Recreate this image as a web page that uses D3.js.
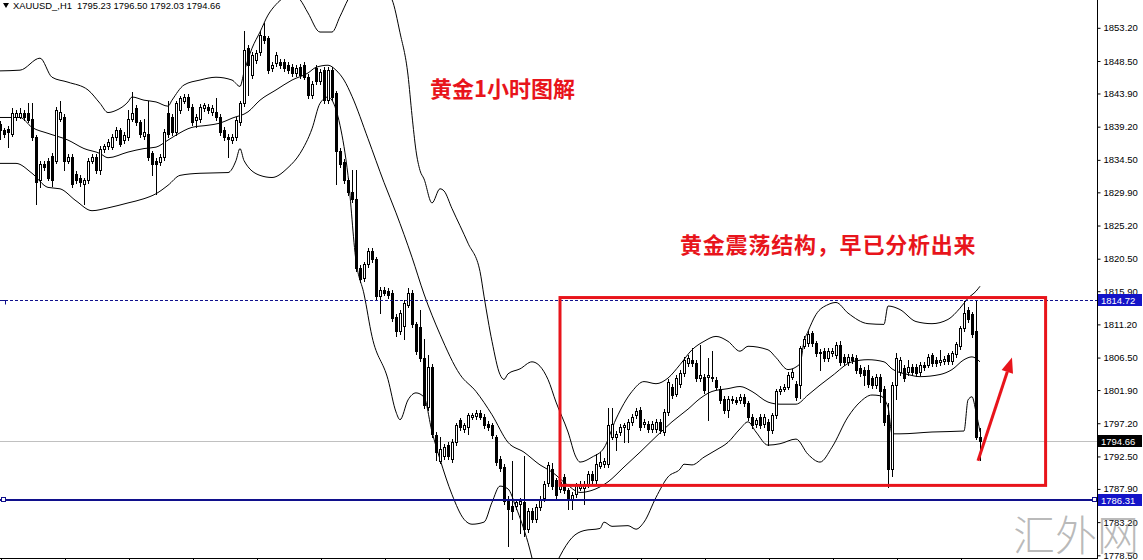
<!DOCTYPE html>
<html>
<head>
<meta charset="utf-8">
<script src="https://cdn.jsdelivr.net/npm/d3@7/dist/d3.min.js"></script>
<style>
  html, body { margin: 0; padding: 0; background: #fff; }
  svg { display: block; }
</style>
</head>
<body>
<svg id="chart" width="1143" height="560"></svg>
<script>
// XAUUSD H1 bars, oldest first (one row = 10 bars).
const opens = [
  1839.6, 1838.7, 1838.9, 1838.2, 1840.6, 1840.6, 1841.1, 1841.1, 1840.3, 1837.7,
  1831.6, 1833.9, 1834.4, 1835.1, 1834.4, 1840.3, 1840.6, 1834.4, 1834.9, 1832.5,
  1832.0, 1831.1, 1831.6, 1834.4, 1834.9, 1833.0, 1836.0, 1836.5, 1836.3, 1837.7,
  1838.7, 1837.3, 1837.7, 1840.3, 1841.8, 1839.9, 1837.9, 1838.2, 1835.4, 1834.4,
  1834.2, 1834.9, 1841.1, 1840.6, 1838.4, 1841.5, 1842.9, 1843.4, 1842.0, 1840.1,
  1840.3, 1841.8, 1842.0, 1841.3, 1841.3, 1840.6, 1838.7, 1837.7, 1837.3, 1837.7,
  1839.9, 1842.5, 1850.3, 1846.5, 1848.6, 1849.8, 1852.0, 1851.7, 1847.5, 1848.2,
  1848.4, 1848.4, 1847.9, 1847.7, 1846.75, 1847.7, 1847.9, 1846.3, 1843.7, 1847.5,
  1845.6, 1847.2, 1843.0, 1847.2, 1843.9, 1835.8, 1834.2, 1831.6, 1829.9, 1828.95,
  1819.2, 1817.8, 1819.7, 1821.6, 1820.4, 1815.2, 1816.1, 1815.9, 1815.7, 1812.3,
  1810.2, 1811.0, 1814.0, 1815.7, 1811.2, 1810.9, 1806.4, 1799.5, 1805.2, 1795.5,
  1791.9, 1792.6, 1794.1, 1792.2, 1794.5, 1797.6, 1796.4, 1796.7, 1798.1, 1798.2,
  1798.7, 1798.1, 1797.1, 1796.9, 1795.25, 1792.2, 1791.0, 1786.5, 1785.5, 1785.5,
  1785.8, 1786.0, 1782.2, 1784.8, 1783.6, 1785.3, 1786.6, 1788.7, 1790.7, 1789.1,
  1787.9, 1789.6, 1787.7, 1786.4, 1787.2, 1788.1, 1788.1, 1788.6, 1790.0, 1789.1,
  1791.2, 1791.4, 1791.4, 1795.25, 1795.25, 1795.96, 1796.7, 1796.4, 1797.4, 1798.3,
  1799.05, 1797.1, 1797.1, 1796.4, 1796.4, 1797.4, 1795.96, 1798.8, 1802.4, 1801.4,
  1802.8, 1804.3, 1805.7, 1806.2, 1805.7, 1803.6, 1803.8, 1803.8, 1803.8, 1803.3,
  1802.1, 1800.7, 1799.05, 1800.5, 1800.5, 1800.5, 1800.95, 1800.0, 1798.1, 1797.1,
  1798.1, 1797.1, 1797.4, 1796.2, 1798.3, 1801.7, 1802.1, 1802.4, 1803.8, 1802.8,
  1802.6, 1808.2, 1808.5, 1809.96, 1808.5, 1807.3, 1807.4, 1806.4, 1807.1, 1806.9,
  1808.3, 1806.6, 1805.9, 1806.6, 1806.4, 1805.0, 1804.75, 1804.75, 1803.55, 1802.6,
  1803.8, 1802.1, 1798.3, 1790.75, 1802.6, 1804.5, 1805.0, 1804.5, 1805.2, 1805.2,
  1804.5, 1805.5, 1805.5, 1806.9, 1806.2, 1805.9, 1806.0, 1806.9, 1805.95, 1806.94,
  1808.08, 1810.64, 1813.2, 1812.63, 1810.2, 1795.23
];
const highs = [
  1840.0, 1839.0, 1839.3, 1841.8, 1841.5, 1841.8, 1841.5, 1842.5, 1842.5, 1838.0,
  1834.3, 1834.3, 1834.8, 1835.5, 1842.0, 1842.9, 1841.0, 1835.3, 1835.3, 1832.9,
  1832.4, 1832.0, 1834.8, 1835.3, 1835.3, 1836.5, 1836.8, 1837.4, 1838.1, 1839.1,
  1839.0, 1838.4, 1841.5, 1844.1, 1842.2, 1840.2, 1840.3, 1842.9, 1835.8, 1834.8,
  1835.3, 1838.8, 1842.9, 1841.0, 1842.9, 1843.6, 1843.8, 1843.8, 1842.4, 1841.0,
  1842.4, 1842.6, 1842.4, 1842.2, 1843.2, 1841.0, 1839.1, 1838.1, 1838.1, 1840.5,
  1842.9, 1852.7, 1850.7, 1849.8, 1850.0, 1852.8, 1853.9, 1852.1, 1848.3, 1849.8,
  1848.8, 1848.8, 1848.3, 1848.1, 1847.9, 1848.1, 1848.4, 1846.7, 1845.7, 1847.9,
  1847.4, 1847.6, 1847.6, 1847.6, 1844.3, 1836.2, 1834.6, 1832.0, 1833.0, 1833.0,
  1819.6, 1820.1, 1822.0, 1822.0, 1820.8, 1816.5, 1816.5, 1816.3, 1816.1, 1812.7,
  1813.2, 1814.6, 1816.4, 1816.1, 1811.6, 1813.3, 1809.1, 1806.9, 1805.6, 1795.9,
  1795.25, 1794.2, 1794.5, 1794.9, 1797.3, 1798.0, 1797.3, 1798.7, 1798.7, 1799.1,
  1799.1, 1798.5, 1797.5, 1797.3, 1795.6, 1792.6, 1791.4, 1786.9, 1791.9, 1786.4,
  1786.6, 1792.6, 1785.2, 1785.2, 1785.7, 1786.9, 1789.0, 1791.7, 1791.6, 1789.5,
  1789.3, 1790.0, 1788.1, 1787.4, 1788.8, 1789.0, 1789.0, 1790.4, 1790.4, 1792.9,
  1793.1, 1792.3, 1799.3, 1799.3, 1796.1, 1797.1, 1797.3, 1797.8, 1798.5, 1799.4,
  1799.5, 1797.8, 1797.5, 1797.5, 1797.8, 1797.8, 1799.2, 1803.5, 1802.8, 1804.0,
  1804.7, 1806.6, 1806.8, 1807.8, 1806.1, 1808.3, 1804.2, 1806.4, 1807.4, 1803.7,
  1802.5, 1801.1, 1801.1, 1801.1, 1800.9, 1801.4, 1801.4, 1800.4, 1798.5, 1798.0,
  1798.5, 1798.5, 1797.8, 1798.7, 1802.1, 1802.5, 1802.8, 1804.4, 1804.9, 1803.2,
  1808.2, 1809.6, 1810.2, 1810.3, 1808.9, 1807.7, 1807.8, 1807.8, 1807.8, 1808.7,
  1808.8, 1807.0, 1807.0, 1807.0, 1806.8, 1805.4, 1805.1, 1805.5, 1803.9, 1804.2,
  1804.2, 1802.5, 1800.0, 1803.0, 1807.1, 1806.6, 1805.4, 1806.2, 1805.6, 1805.6,
  1805.9, 1805.9, 1807.0, 1807.1, 1806.6, 1807.6, 1806.7, 1807.2, 1807.4, 1808.7,
  1811.0, 1814.49, 1813.6, 1813.0, 1814.72, 1796.50
];
const lows = [
  1837.5, 1837.8, 1836.3, 1837.9, 1840.2, 1840.4, 1840.2, 1839.8, 1837.3, 1828.2,
  1830.6, 1833.0, 1831.6, 1830.8, 1834.0, 1840.0, 1833.0, 1834.0, 1830.7, 1831.2,
  1830.8, 1828.2, 1831.2, 1834.0, 1832.6, 1832.5, 1835.6, 1836.1, 1836.0, 1837.3,
  1836.4, 1836.9, 1837.3, 1840.0, 1839.5, 1837.8, 1837.5, 1834.5, 1832.3, 1829.7,
  1833.8, 1834.5, 1837.8, 1838.0, 1838.0, 1841.1, 1842.5, 1841.6, 1839.5, 1839.1,
  1839.9, 1841.4, 1841.1, 1840.9, 1840.2, 1838.0, 1837.3, 1834.9, 1836.9, 1837.3,
  1839.5, 1842.1, 1843.7, 1846.1, 1848.2, 1849.4, 1851.1, 1846.8, 1847.1, 1847.8,
  1847.5, 1847.1, 1846.8, 1846.4, 1846.4, 1846.1, 1845.9, 1843.3, 1843.3, 1845.2,
  1845.2, 1842.5, 1842.5, 1843.0, 1831.1, 1833.5, 1831.2, 1829.5, 1828.5, 1818.8,
  1817.2, 1817.4, 1819.3, 1820.0, 1814.8, 1812.8, 1815.3, 1815.0, 1811.7, 1809.5,
  1809.8, 1809.2, 1813.6, 1810.8, 1807.0, 1806.0, 1799.4, 1799.1, 1795.3, 1792.0,
  1791.5, 1792.2, 1792.2, 1791.7, 1794.1, 1796.3, 1796.0, 1795.7, 1797.8, 1797.8,
  1797.8, 1796.5, 1796.3, 1795.1, 1791.3, 1790.4, 1785.8, 1779.8, 1783.6, 1785.1,
  1781.7, 1781.3, 1781.8, 1783.2, 1783.2, 1784.9, 1786.2, 1788.3, 1787.9, 1786.6,
  1787.5, 1787.3, 1785.1, 1785.0, 1786.8, 1787.7, 1785.8, 1788.2, 1788.7, 1788.7,
  1790.8, 1791.0, 1791.0, 1794.9, 1793.4, 1795.6, 1794.5, 1794.5, 1797.0, 1797.9,
  1796.3, 1796.7, 1796.0, 1796.0, 1796.0, 1795.8, 1795.5, 1798.4, 1800.8, 1801.0,
  1802.4, 1803.9, 1805.3, 1805.3, 1803.2, 1803.2, 1801.5, 1797.6, 1803.2, 1802.0,
  1800.1, 1798.6, 1798.1, 1800.1, 1799.9, 1800.1, 1799.6, 1797.7, 1796.5, 1796.7,
  1796.5, 1796.7, 1794.1, 1795.8, 1797.9, 1801.3, 1801.7, 1802.0, 1803.4, 1800.5,
  1800.8, 1807.8, 1808.1, 1808.1, 1806.7, 1804.75, 1806.0, 1806.0, 1806.7, 1806.5,
  1805.5, 1805.5, 1805.5, 1805.8, 1804.3, 1803.9, 1802.6, 1802.4, 1802.2, 1802.2,
  1800.25, 1797.0, 1788.2, 1789.8, 1800.7, 1804.1, 1803.2, 1804.1, 1804.1, 1803.9,
  1804.1, 1804.8, 1805.1, 1805.3, 1805.3, 1805.5, 1805.6, 1805.6, 1805.6, 1806.6,
  1807.7, 1810.2, 1811.5, 1809.4, 1794.9, 1792.03
];
const closes = [
  1838.7, 1838.2, 1838.4, 1841.1, 1841.1, 1841.1, 1840.6, 1840.1, 1837.7, 1831.3,
  1833.9, 1833.5, 1832.0, 1831.6, 1841.5, 1841.3, 1834.4, 1834.9, 1831.1, 1831.6,
  1831.3, 1831.6, 1834.4, 1834.9, 1833.0, 1836.1, 1836.4, 1837.0, 1837.7, 1838.7,
  1836.8, 1838.0, 1840.3, 1841.1, 1839.9, 1838.2, 1838.4, 1834.9, 1833.9, 1833.9,
  1834.9, 1838.4, 1838.2, 1838.4, 1842.5, 1843.2, 1843.4, 1842.0, 1839.9, 1840.6,
  1842.0, 1842.2, 1841.5, 1841.8, 1840.6, 1838.4, 1837.7, 1837.5, 1837.7, 1840.1,
  1842.5, 1850.1, 1847.9, 1849.4, 1849.6, 1852.2, 1851.5, 1847.2, 1847.9, 1849.4,
  1847.9, 1847.5, 1847.2, 1846.75, 1847.5, 1846.5, 1846.3, 1843.7, 1845.3, 1845.6,
  1847.0, 1842.95, 1847.2, 1843.4, 1835.8, 1833.9, 1831.6, 1829.9, 1828.95, 1819.2,
  1817.6, 1819.7, 1821.6, 1820.4, 1815.2, 1816.1, 1815.7, 1815.4, 1812.1, 1810.2,
  1812.8, 1814.2, 1815.7, 1811.2, 1807.4, 1806.4, 1799.8, 1805.2, 1795.7, 1793.1,
  1793.6, 1793.8, 1792.6, 1794.5, 1796.9, 1796.7, 1796.9, 1798.3, 1798.3, 1798.7,
  1798.1, 1796.9, 1796.7, 1795.5, 1791.7, 1790.8, 1786.2, 1785.0, 1784.8, 1786.0,
  1786.2, 1782.2, 1784.8, 1783.6, 1785.3, 1786.5, 1788.6, 1791.3, 1788.3, 1787.0,
  1788.9, 1787.7, 1786.4, 1787.0, 1788.4, 1788.6, 1788.6, 1790.0, 1789.1, 1791.4,
  1791.7, 1791.9, 1796.9, 1797.1, 1795.7, 1796.7, 1796.9, 1797.4, 1798.1, 1799.0,
  1796.7, 1797.4, 1796.4, 1797.1, 1797.4, 1796.2, 1798.8, 1803.1, 1801.2, 1803.6,
  1804.3, 1806.2, 1806.4, 1805.7, 1803.55, 1804.0, 1801.9, 1804.0, 1803.55, 1802.4,
  1800.5, 1799.05, 1800.7, 1800.7, 1800.25, 1800.95, 1800.0, 1798.1, 1796.9, 1797.6,
  1796.9, 1798.1, 1796.2, 1798.3, 1801.7, 1802.1, 1802.4, 1804.0, 1804.5, 1800.95,
  1807.8, 1809.2, 1809.9, 1808.5, 1807.1, 1807.1, 1806.4, 1807.4, 1807.4, 1808.3,
  1805.9, 1805.9, 1806.6, 1806.2, 1804.75, 1804.3, 1804.0, 1802.8, 1802.6, 1803.8,
  1801.7, 1797.4, 1790.75, 1802.6, 1806.4, 1806.2, 1803.55, 1805.2, 1804.5, 1804.3,
  1805.5, 1805.2, 1806.6, 1805.7, 1805.7, 1806.2, 1806.3, 1805.95, 1807.08, 1808.36,
  1810.64, 1812.78, 1811.9, 1809.79, 1795.23, 1794.66
];

// Bollinger bands, read at selected bars.
const upperBars = [0, 5, 10, 13, 17, 22, 25, 27, 29, 32, 33, 36, 39, 42, 43, 46, 50, 54, 58, 60,
  61, 63, 65, 67, 69, 71, 73, 75, 77, 80, 83, 85, 87, 90, 94, 98, 100, 102, 103, 104,
  105, 106, 108, 110, 111, 113, 117, 120, 121, 123, 125, 126, 127, 130, 133, 137, 139, 142, 144, 145,
  148, 151, 154, 158, 161, 164, 167, 170, 173, 176, 179, 182, 185, 187, 192, 194, 197, 200, 201, 202,
  204, 207, 209, 212, 217, 221, 222, 225, 229, 233, 237, 240, 242, 244, 245];
const upperBand = [1847.1, 1847.2, 1848.9, 1846.2, 1845.5, 1844.4, 1842.5, 1841.2, 1841.5, 1842.7, 1843.4, 1842.95, 1842.7, 1842.1, 1842.95, 1845.1, 1845.8, 1846.2, 1845.8, 1844.9,
  1846.9, 1850.3, 1852.6, 1855.0, 1856.5, 1857.5, 1858.0, 1857.2, 1855.3, 1852.6, 1852.6, 1854.8, 1857.2, 1860.0, 1860.0, 1857.2, 1852.5, 1846.5, 1840.8, 1835.8,
  1833.0, 1831.8, 1828.4, 1830.4, 1830.1, 1827.6, 1822.7, 1818.7, 1815.2, 1808.8, 1804.1, 1803.4, 1804.2, 1804.9, 1805.9, 1803.4, 1800.2, 1795.96, 1792.4, 1791.7,
  1792.4, 1793.7, 1797.8, 1801.7, 1803.1, 1802.8, 1803.6, 1805.5, 1807.6, 1808.8, 1809.5, 1808.8, 1807.4, 1808.1, 1807.6, 1806.5, 1804.8, 1805.6, 1808.8, 1810.2,
  1812.6, 1814.0, 1814.3, 1812.8, 1811.3, 1811.2, 1813.8, 1813.3, 1811.6, 1811.3, 1811.9, 1813.5, 1814.9, 1815.9, 1816.6];

const middleBars = [0, 5, 8, 12, 17, 21, 25, 27, 32, 36, 39, 42, 44, 48, 52, 55, 58, 62, 65, 69,
  73, 77, 79, 82, 84, 86, 88, 92, 96, 99, 103, 106, 110, 115, 119, 123, 127, 131, 135, 138,
  142, 145, 148, 152, 156, 160, 164, 168, 172, 175, 178, 182, 185, 188, 192, 195, 199, 202, 205, 208,
  213, 217, 221, 223, 227, 230, 235, 238, 241, 243, 245];
const middleBand = [1840.5, 1840.5, 1839.1, 1838.25, 1837.3, 1836.1, 1835.4, 1834.8, 1835.6, 1836.1, 1836.3, 1837.3, 1838.0, 1839.1, 1839.4, 1839.7, 1840.4, 1841.3, 1842.95, 1844.4,
  1845.8, 1846.8, 1847.6, 1847.9, 1847.2, 1845.8, 1843.5, 1837.5, 1831.3, 1827.0, 1820.7, 1815.5, 1809.8, 1804.1, 1801.7, 1798.4, 1794.5, 1793.1, 1791.3, 1790.3,
  1788.4, 1787.4, 1787.7, 1788.9, 1791.0, 1793.1, 1795.3, 1797.4, 1799.2, 1800.7, 1801.7, 1802.1, 1802.4, 1801.7, 1800.2, 1799.9, 1799.9, 1801.2, 1802.6, 1803.9,
  1805.9, 1806.2, 1805.9, 1804.9, 1804.1, 1803.8, 1804.1, 1804.8, 1806.2, 1806.6, 1805.9];

const lowerBars = [0, 4, 8, 12, 15, 19, 23, 27, 32, 36, 39, 42, 45, 50, 57, 59, 60, 61, 65, 68,
  72, 75, 78, 80, 82, 83, 85, 87, 89, 91, 93, 97, 99, 100, 102, 104, 106, 108, 110, 113,
  116, 118, 121, 123, 125, 127, 129, 132, 134, 136, 138, 140, 143, 146, 150, 151, 153, 157, 159, 161,
  164, 167, 170, 171, 173, 176, 179, 182, 185, 187, 189, 192, 195, 199, 202, 205, 208, 212, 215, 218,
  220, 222, 223, 225, 233, 241, 242, 243, 244, 245];
const lowerBand = [1834.0, 1834.0, 1832.6, 1830.6, 1830.4, 1828.7, 1827.3, 1827.7, 1828.4, 1829.0, 1829.7, 1830.9, 1832.3, 1832.6, 1832.7, 1834.4, 1836.1, 1834.4, 1832.3, 1832.0,
  1833.4, 1835.4, 1838.9, 1842.5, 1843.4, 1842.95, 1839.4, 1832.3, 1820.2, 1815.5, 1809.5, 1803.4, 1798.8, 1797.7, 1800.5, 1801.5, 1800.9, 1796.0, 1792.1, 1787.1,
  1783.6, 1782.9, 1783.2, 1786.0, 1788.3, 1787.9, 1785.3, 1780.3, 1776.0, 1773.2, 1776.0, 1778.4, 1781.0, 1782.0, 1782.3, 1783.2, 1782.6, 1782.7, 1782.2, 1783.2,
  1786.7, 1789.6, 1790.7, 1791.4, 1791.3, 1792.4, 1793.4, 1794.5, 1796.4, 1797.4, 1795.96, 1794.1, 1794.3, 1794.96, 1792.8, 1791.7, 1793.8, 1798.1, 1800.2, 1801.2,
  1801.1, 1799.5, 1795.7, 1795.7, 1795.96, 1796.1, 1800.5, 1800.95, 1798.8, 1795.96];

// Price scale labels and time scale tick bars.
const priceTicks = [1853.20, 1848.50, 1843.90, 1839.20, 1834.50, 1829.90, 1825.20, 1820.50, 1815.90,
  1811.20, 1806.50, 1801.90, 1797.20, 1792.50, 1787.90, 1783.20, 1778.50];
const timeTicks = [0, 16, 32, 48, 64, 80, 96, 112, 128, 144, 160, 176, 192, 208, 224, 240];

// Header, horizontal levels and annotations.
const symbolName = 'XAUUSD_,H1';
const lastBar = [1795.23, 1796.50, 1792.03, 1794.66];
const resistance = 1814.72;
const support = 1786.31;
const boxBars = [140, 261.4];
const boxPrices = [1815.0, 1788.4];
const arrowBars = [244.5, 253];
const arrowPrices = [1791.9, 1806.5];
const titleText = '黄金1小时图解';
const noteText = '黄金震荡结构，早已分析出来';
const watermarkText = '汇外网';

const plotRight = 1097, plotBottom = 558;
const red = '#e8141b';
const labelFont = '"Liberation Sans Narrow", "Arial Narrow", "Liberation Sans", sans-serif';
const cjkFont = '"Noto Sans CJK SC", "Noto Sans", sans-serif';

const svg = d3.select('#chart');

// Scales.
const x = d3.scaleLinear().domain([0, 245]).range([0, 980]);
const y = d3.scaleLinear().domain([1853.2, 1778.5]).range([27.8, 555.3]);
const px = i => Math.round(x(i));
const py = v => Math.round(y(v));

svg.append('rect').attr('width', 1143).attr('height', 560).attr('fill', '#fff');

svg.append('defs').append('clipPath').attr('id', 'plot-clip')
  .append('rect').attr('width', plotRight).attr('height', plotBottom);

const plot = svg.append('g').attr('clip-path', 'url(#plot-clip)');

// Bid line.
plot.append('line')
  .attr('x1', 0).attr('x2', plotRight)
  .attr('y1', py(lastBar[3]) + 0.5).attr('y2', py(lastBar[3]) + 0.5)
  .attr('stroke', '#c0c0c0');

// Bollinger bands.
const bandLine = d3.line().x(d => x(d[0])).y(d => y(d[1])).curve(d3.curveMonotoneX);
[[upperBars, upperBand], [middleBars, middleBand], [lowerBars, lowerBand]].forEach(([bars, vals]) => {
  plot.append('path')
    .datum(bars.map((b, k) => [b, vals[k]]))
    .attr('fill', 'none')
    .attr('stroke', '#000')
    .attr('stroke-width', 1)
    .attr('d', bandLine);
});

// Candles.
const bars = opens.map((o, i) => ({ i, o, h: highs[i], l: lows[i], c: closes[i] }));

plot.append('g')
  .selectAll('line')
  .data(bars)
  .join('line')
  .attr('x1', d => px(d.i) + 0.5)
  .attr('x2', d => px(d.i) + 0.5)
  .attr('y1', d => py(d.h))
  .attr('y2', d => py(d.l) + 1)
  .attr('stroke', '#000');

plot.append('g')
  .selectAll('rect')
  .data(bars)
  .join('rect')
  .attr('x', d => d.c > d.o ? px(d.i) - 0.5 : px(d.i) - 1)
  .attr('y', d => d.c > d.o ? py(d.c) + 0.5 : py(d.o))
  .attr('width', d => d.c > d.o ? 2 : 3)
  .attr('height', d => d.c > d.o ? Math.max(0, py(d.o) - py(d.c)) : Math.max(1, py(d.c) - py(d.o) + 1))
  .attr('fill', d => d.c > d.o ? '#fff' : '#000')
  .attr('stroke', d => d.c > d.o ? '#000' : 'none');

// Horizontal levels.
plot.append('line')
  .attr('x1', 0).attr('x2', plotRight)
  .attr('y1', py(resistance) + 0.5).attr('y2', py(resistance) + 0.5)
  .attr('stroke', '#10108c')
  .attr('stroke-dasharray', '3,2');

plot.append('line')
  .attr('x1', 0).attr('x2', plotRight)
  .attr('y1', py(support)).attr('y2', py(support))
  .attr('stroke', '#10108c')
  .attr('stroke-width', 2);

// Little end markers of the level lines.
[[1, support], [plotRight - 5, support]].forEach(([mx, p]) => {
  svg.append('rect')
    .attr('x', mx + 0.5).attr('y', py(p) - 2.5)
    .attr('width', 4).attr('height', 4)
    .attr('fill', '#fff').attr('stroke', '#10108c');
});
svg.append('path')
  .attr('d', `M2,${py(resistance) + 0.5}h6M5.5,${py(resistance) + 0.5}v4`)
  .attr('stroke', '#10108c');

// Red range box and arrow.
svg.append('rect')
  .attr('x', x(boxBars[0]))
  .attr('y', y(boxPrices[0]))
  .attr('width', x(boxBars[1]) - x(boxBars[0]))
  .attr('height', y(boxPrices[1]) - y(boxPrices[0]))
  .attr('fill', 'none')
  .attr('stroke', red)
  .attr('stroke-width', 3);

const ax0 = x(arrowBars[0]), ay0 = y(arrowPrices[0]);
const ax1 = x(arrowBars[1]), ay1 = y(arrowPrices[1]);
const ang = Math.atan2(ay1 - ay0, ax1 - ax0);
const headLen = 15, headHalf = 6;
const hx = ax1 - headLen * Math.cos(ang), hy = ay1 - headLen * Math.sin(ang);
svg.append('line')
  .attr('x1', ax0).attr('y1', ay0).attr('x2', hx).attr('y2', hy)
  .attr('stroke', red).attr('stroke-width', 3);
svg.append('path')
  .attr('d', `M${ax1},${ay1}L${hx + headHalf * Math.sin(ang)},${hy - headHalf * Math.cos(ang)}L${hx - headHalf * Math.sin(ang)},${hy + headHalf * Math.cos(ang)}Z`)
  .attr('fill', red);

// Annotation texts.
svg.append('text')
  .attr('x', 430).attr('y', 97)
  .attr('font-family', cjkFont).attr('font-size', 22).attr('font-weight', 'bold')
  .attr('fill', red)
  .text(titleText);

svg.append('text')
  .attr('x', 680).attr('y', 253)
  .attr('font-family', cjkFont).attr('font-size', 22).attr('font-weight', 'bold')
  .attr('letter-spacing', 0.8)
  .attr('fill', red)
  .text(noteText);

// Price scale.
svg.append('line')
  .attr('x1', plotRight + 0.5).attr('x2', plotRight + 0.5)
  .attr('y1', 0).attr('y2', plotBottom + 1)
  .attr('stroke', '#000');

svg.append('g')
  .attr('transform', `translate(${plotRight + 0.5},0)`)
  .call(d3.axisRight(y).tickValues(priceTicks).tickSize(3).tickPadding(3).tickFormat(d3.format('.2f')))
  .call(g => g.select('.domain').remove())
  .call(g => g.selectAll('text').attr('font-family', labelFont).attr('font-size', 9.5).attr('fill', '#000'))
  .call(g => g.selectAll('line').attr('stroke', '#000'));

// Time scale (labels fall below the picture).
svg.append('line')
  .attr('x1', 0).attr('x2', plotRight + 1)
  .attr('y1', plotBottom + 0.5).attr('y2', plotBottom + 0.5)
  .attr('stroke', '#000');

svg.append('g')
  .selectAll('line')
  .data(timeTicks)
  .join('line')
  .attr('x1', d => px(d) + 1.5).attr('x2', d => px(d) + 1.5)
  .attr('y1', plotBottom).attr('y2', plotBottom + 4)
  .attr('stroke', '#000');

// Price tags.
[[resistance, '#1414c8'], [lastBar[3], '#000'], [support, '#1414c8']].forEach(([p, bg]) => {
  const ty = py(p);
  svg.append('rect')
    .attr('x', plotRight + 1).attr('y', ty - 6)
    .attr('width', 44).attr('height', 12)
    .attr('fill', bg);
  svg.append('text')
    .attr('x', plotRight + 4).attr('y', ty + 4)
    .attr('font-family', labelFont).attr('font-size', 9.5)
    .attr('fill', '#fff')
    .text(d3.format('.2f')(p));
});

// Header.
svg.append('path').attr('d', 'M3,3L9,3L6,8Z').attr('fill', '#000');
svg.append('text')
  .attr('x', 13).attr('y', 9)
  .attr('font-family', labelFont).attr('font-size', 9.4)
  .attr('fill', '#000')
  .attr('xml:space', 'preserve')
  .text(`${symbolName}  ${lastBar.map(d3.format('.2f')).join(' ')}`);

// Watermark.
svg.append('text')
  .attr('x', 1013).attr('y', 551)
  .attr('font-family', cjkFont).attr('font-size', 42).attr('font-weight', 300)
  .attr('fill', '#8c8c8c').attr('fill-opacity', 0.6)
  .text(watermarkText);
</script>
</body>
</html>
